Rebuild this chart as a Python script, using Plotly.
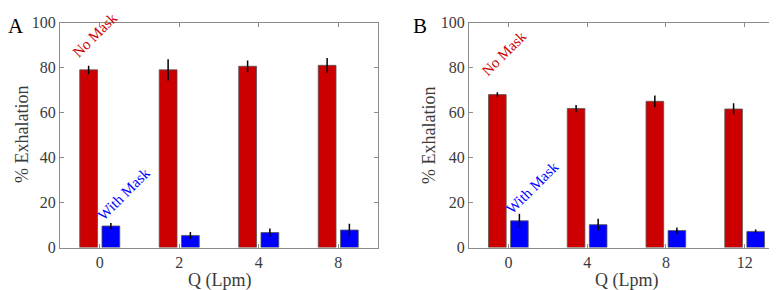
import plotly.graph_objects as go

# ---- data ----
qA = ["0", "2", "4", "8"]
noMaskA = [79.0, 79.0, 80.6, 81.0]
noMaskA_err = [1.8, 4.7, 2.6, 3.3]
withMaskA = [9.6, 5.4, 6.7, 7.8]
withMaskA_err = [1.3, 1.5, 1.8, 2.8]

qB = ["0", "4", "8", "12"]
noMaskB = [68.0, 61.8, 65.0, 61.6]
noMaskB_err = [1.0, 1.6, 2.6, 2.5]
withMaskB = [11.9, 10.2, 7.6, 7.2]
withMaskB_err = [3.1, 2.6, 1.3, 0.8]

yticks = [0, 20, 40, 60, 80, 100]

RED = "#CC0000"
BLUE = "#0000FF"
FONT = "Liberation Serif"
W, H = 777, 290

fig = go.Figure()

def add_panel(cats, nm, nm_e, wm, wm_e, xa, ya):
    fig.add_trace(go.Bar(x=cats, y=nm, marker=dict(color=RED, line=dict(color="#555555", width=0.8)),
                         error_y=dict(type="data", array=nm_e, color="black", thickness=1.5, width=0),
                         xaxis=xa, yaxis=ya, showlegend=False, offsetgroup="a"))
    fig.add_trace(go.Bar(x=cats, y=wm, marker=dict(color=BLUE, line=dict(color="#555555", width=0.8)),
                         error_y=dict(type="data", array=wm_e, color="black", thickness=1.5, width=0),
                         xaxis=xa, yaxis=ya, showlegend=False, offsetgroup="b"))

add_panel(qA, noMaskA, noMaskA_err, withMaskA, withMaskA_err, "x", "y")
add_panel(qB, noMaskB, noMaskB_err, withMaskB, withMaskB_err, "x2", "y2")

ybot = (H - 246) / H
ytop = (H - 7) / H
xA = [52 / W, 370 / W]
xB = [461 / W, 776 / W]

axis_common = dict(showline=True, linecolor="#8c8c8c", linewidth=1, mirror="ticks",
                   ticks="inside", ticklen=4, tickcolor="#8c8c8c", showgrid=False, zeroline=False,
                   tickfont=dict(family=FONT, size=16, color="#3a3a3a"))

fig.update_layout(
    width=W, height=H, margin=dict(l=0, r=0, t=0, b=0),
    plot_bgcolor="white", paper_bgcolor="white",
    font=dict(family=FONT),
    barmode="group", bargap=0.44, bargroupgap=0.2,
    xaxis=dict(domain=xA, anchor="y", type="category", range=[-0.5, 3.5], **axis_common),
    yaxis=dict(domain=[ybot, ytop], anchor="x", range=[0, 100.0001], tickvals=yticks,
               ticktext=[str(v) for v in yticks], ticklabeloverflow="allow", **axis_common),
    xaxis2=dict(domain=xB, anchor="y2", type="category", range=[-0.5, 3.5], **axis_common),
    yaxis2=dict(domain=[ybot, ytop], anchor="x2", range=[0, 100.0001], tickvals=yticks,
                ticktext=[str(v) for v in yticks], ticklabeloverflow="allow", **axis_common),
)

ann = []
# rotated labels
for xr, yr, cat, ytxt, txt, col in [
    ("x", "y", -0.06, 94.5, "No Mask", RED),
    ("x", "y", 0.30, 24.0, "With Mask", BLUE),
    ("x2", "y2", -0.05, 86.5, "No Mask", RED),
    ("x2", "y2", 0.30, 26.5, "With Mask", BLUE),
]:
    ann.append(dict(xref=xr, yref=yr, x=cat, y=ytxt, text=txt, showarrow=False, textangle=-45,
                    font=dict(family=FONT, size=15, color=col), xanchor="center", yanchor="middle"))

# axis titles
for xc in [(xA[0] + xA[1]) / 2, (xB[0] + xB[1]) / 2]:
    ann.append(dict(xref="paper", yref="paper", x=xc, y=(H - 281) / H, text="Q (Lpm)", showarrow=False,
                    font=dict(family=FONT, size=18, color="#3a3a3a"), xanchor="center", yanchor="middle"))
for xp in [14 / W, 421 / W]:
    ann.append(dict(xref="paper", yref="paper", x=xp, y=(ybot + ytop) / 2, text="% Exhalation", showarrow=False,
                    textangle=-90, font=dict(family=FONT, size=18, color="#3a3a3a"), xanchor="center", yanchor="middle"))
# panel letters
for xp, lab in [(8 / W, "A"), (412 / W, "B")]:
    ann.append(dict(xref="paper", yref="paper", x=xp, y=(H - 11) / H, text=lab, showarrow=False,
                    font=dict(family=FONT, size=21, color="black"), xanchor="center", yanchor="middle"))

fig.update_layout(annotations=ann)
fig.write_html("out.html")
